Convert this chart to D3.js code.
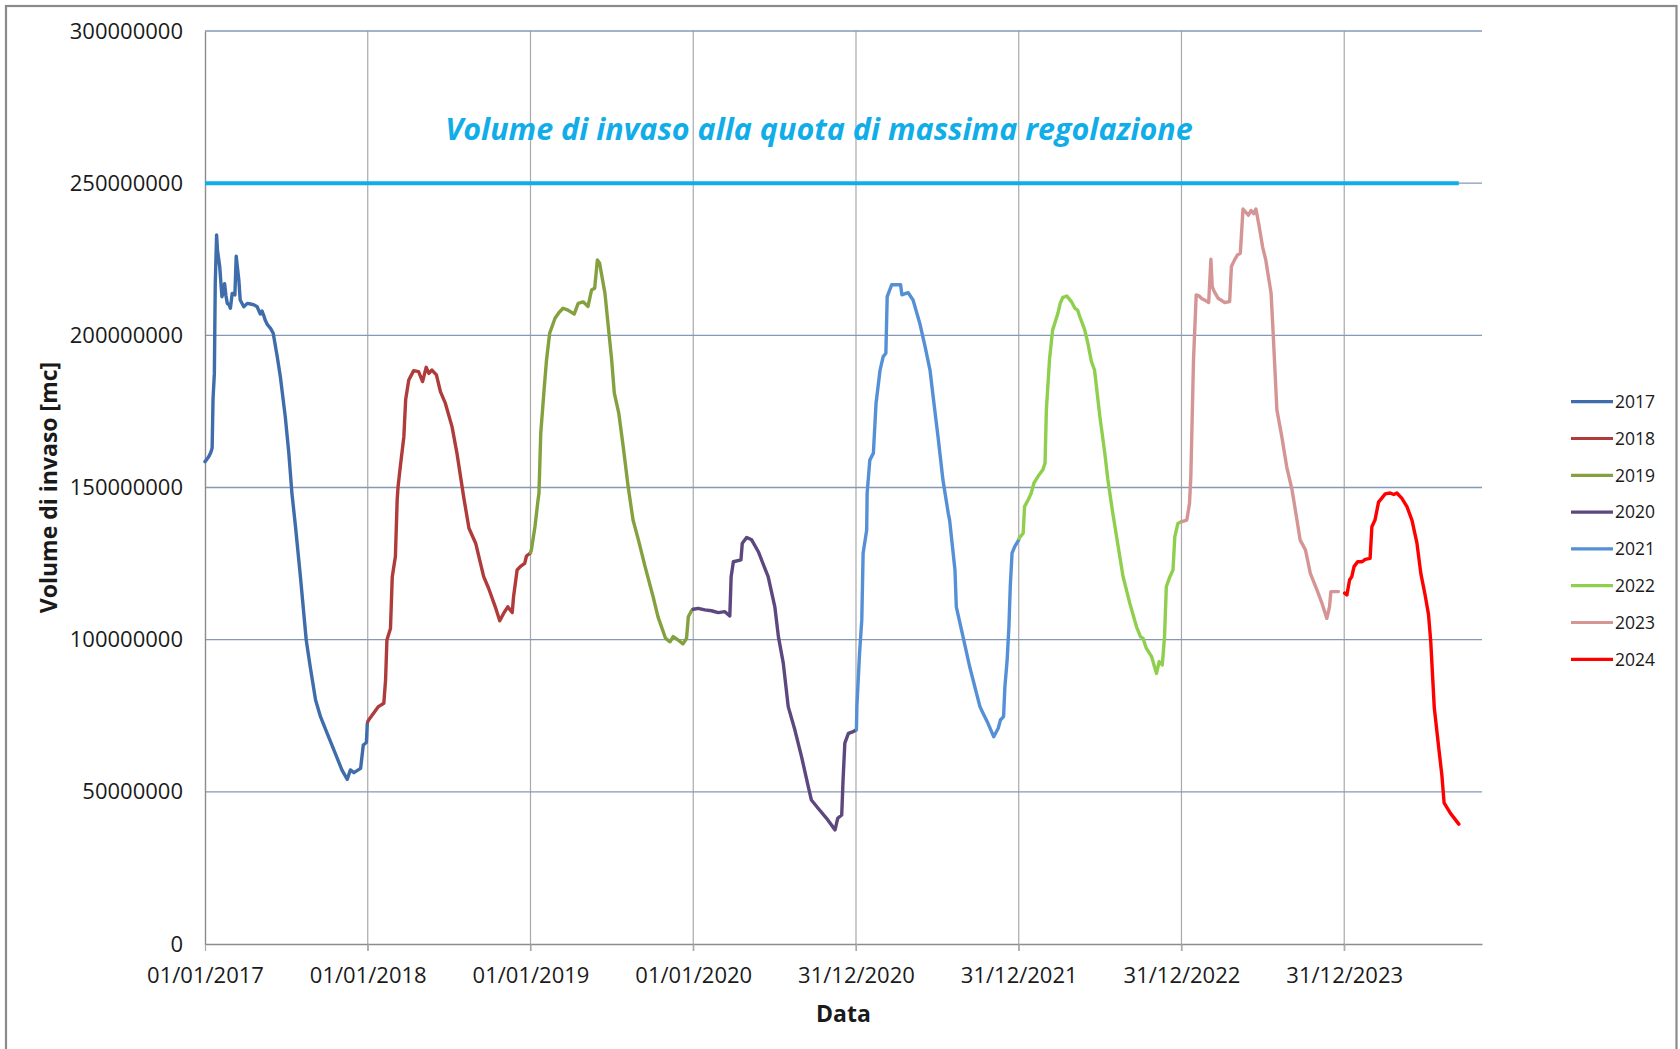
<!DOCTYPE html>
<html><head><meta charset="utf-8">
<script src="https://cdn.jsdelivr.net/npm/d3@7"></script>
<style>html,body{margin:0;padding:0;background:#fff;} svg{display:block;}</style>
</head><body>
<svg id="chart" width="1680" height="1049"></svg>
<script>
// ---- DATA (volumes in millions of m3; [day of year, value]) ----
const years = ["2017","2018","2019","2020","2021","2022","2023","2024"];
const seriesColors = ["#3f6cab","#b03b3b","#84a13f","#5c477f","#5590d6","#90cf4e","#d59594","#ff0000"];
const s2017 = [[0,158.5],[8,160],[13,161.5],[16,163],[18,179],[21,187.5],[23,217],[26,233],[28,228],[33,222.6],[38,212.7],[41,214],[44,217],[47,213],[50,210.5],[54,210],[57,208.9],[61,213.8],[67,213.3],[70,226],[73,222],[76,218],[79,211.6],[87,209.4],[95,210.5],[102,210.3],[110,210],[117,209.4],[124,207],[128,208],[132,206.4],[135,205],[140,203.5],[147,202.3],[153,200.7],[162,193],[169,186.4],[180,173.3],[188,161.3],[195,148],[203,137.1],[214,120.7],[227,99.9],[236,91.1],[248,80.2],[259,74.7],[274,69.2],[289,63.8],[307,57.2],[319,54.1],[326,57.2],[334,56.3],[349,57.7],[355,65.4],[362,66.2],[364,72.5]];
const s2018 = [[0,73],[2,73.6],[13,75.8],[24,78],[36,79.1],[40,86.8],[43,99.9],[51,103.7],[55,120.7],[62,127.3],[66,145.9],[68,150.3],[73,156.8],[81,166.7],[85,178.8],[92,185.3],[103,188.4],[114,188.1],[123,184.8],[131,189.5],[137,187.5],[144,188.6],[154,187],[163,181.5],[174,177.7],[189,170],[200,161.3],[215,147],[227,136.6],[242,131.7],[260,120.7],[271,116.9],[286,110.8],[296,106.2],[305,108.7],[314,110.8],[324,108.9],[327,114.1],[335,122.9],[342,124],[352,125.1],[356,127.5],[364,128.4]];
const s2019 = [[0,128.6],[2,129.5],[10,137.1],[17,146],[19,148.1],[23,167.8],[31,183.1],[36,192],[43,200.7],[55,205.6],[64,207.5],[73,208.9],[84,208.3],[98,207],[107,210.5],[118,211],[129,209.5],[137,214.9],[144,215.5],[150,224.8],[155,223.7],[167,213.8],[176,200.7],[182,192],[188,181],[198,174.4],[208,163.4],[219,150.3],[230,139.3],[242,132.8],[257,124],[275,114.1],[286,107.5],[303,100.4],[313,99.3],[320,101],[331,99.9],[342,98.6],[350,100.4],[354,107.5],[361,109.5],[364,110]];
const s2020 = [[0,110],[11,110.3],[26,109.8],[41,109.5],[56,108.9],[71,109.2],[82,107.8],[85,120.7],[90,125.6],[107,126.2],[110,131.7],[120,133.6],[131,132.8],[146,128.9],[168,120.7],[183,110.8],[191,101],[202,92.2],[213,78],[228,70.3],[243,61.5],[258,51.7],[265,47.3],[280,44.6],[299,41.3],[318,37.5],[324,41.3],[333,42.4],[336,53.9],[340,66],[348,69.2],[359,69.8],[365,70.3]];
const s2021 = [[0,70.5],[1,78],[7,95.5],[12,106.5],[15,128.4],[23,136],[24,148.1],[30,159],[38,161.3],[44,177.7],[53,188.6],[60,193],[66,194.1],[69,212.7],[79,216.6],[99,216.6],[102,213.3],[116,214],[127,211.6],[142,204],[154,196.3],[165,188.6],[172,179.9],[183,166.7],[194,152.5],[206,141.5],[209,139.3],[221,122.9],[224,110.8],[239,101],[254,91.1],[277,78],[284,75.8],[295,72.5],[308,68.1],[318,70.9],[323,73.6],[330,74.7],[333,84.6],[338,93.3],[342,104.3],[345,117.4],[349,128.4],[355,130.6],[364,132.8]];
const s2022 = [[0,133.3],[9,135],[12,143.7],[20,145.9],[27,148.1],[33,151.4],[42,153.6],[53,155.8],[58,158],[61,175.5],[68,192],[75,201.8],[80,204],[87,207.3],[92,210.5],[98,212.5],[107,212.9],[117,211.1],[125,208.9],[131,208.3],[136,206.1],[147,201.8],[154,197.4],[162,191.4],[169,188.6],[181,173.3],[192,161.3],[199,152.5],[210,141.5],[222,130.6],[233,120.7],[248,112],[263,104.3],[272,101],[278,100.4],[285,97.2],[297,94.4],[308,88.9],[314,92.8],[321,91.7],[326,101],[330,117.4],[338,120.7],[345,122.9],[349,133.8],[356,138.2],[364,138.8]];
const s2023 = [[0,138.8],[11,139.3],[17,144.8],[20,153.6],[26,192],[32,213.3],[38,213],[45,212],[52,211.5],[60,210.8],[65,225],[68,216],[72,214.5],[81,212.2],[96,210.8],[107,211.1],[111,222.6],[118,224.8],[125,226.5],[131,227],[137,241.5],[143,240.5],[149,239.5],[155,241],[161,240],[166,241.5],[173,236],[181,229],[188,224.8],[200,213.8],[205,199.5],[213,175.5],[224,166.7],[235,156.8],[247,149.2],[258,139.3],[265,132.8],[277,129.5],[288,121.8],[303,116.3],[314,112],[325,107],[331,110.8],[334,115.8],[351,115.8]];
const s2024 = [[0,115.3],[5,114.7],[11,119.6],[16,120.7],[21,124],[29,125.6],[39,125.6],[46,126.4],[57,126.7],[61,137.1],[68,139.3],[76,145.2],[91,147.9],[102,148.2],[110,147.7],[117,148.2],[128,146.5],[140,143.6],[151,139.2],[162,131.8],[171,121.6],[181,114.2],[188,108.3],[193,99.5],[201,77.6],[211,64.4],[218,55.5],[223,46.4],[237,43],[256,39.4]];
const seriesData = [s2017,s2018,s2019,s2020,s2021,s2022,s2023,s2024];
const refLabel = "Volume di invaso alla quota di massima regolazione";
const refValue = 250;
const refDates = ["01/01/2017","13/09/2024"];
const xTickLabels = ["01/01/2017","01/01/2018","01/01/2019","01/01/2020","31/12/2020","31/12/2021","31/12/2022","31/12/2023"];
const xDomain = ["01/01/2017","04/11/2024"];
const yTicks = [0,50,100,150,200,250,300];
const yTitle = "Volume di invaso [mc]";
const xTitle = "Data";

// ---- DRAW ----
const svg = d3.select("#chart");
const L = 205, R = 1482, T = 31, B = 944;
const parse = d3.timeParse("%d/%m/%Y");
const fmt = d3.timeFormat("%d/%m/%Y");
const x = d3.scaleTime().domain(xDomain.map(parse)).range([L, R]);
const y = d3.scaleLinear().domain([0, 300]).range([B, T]);

svg.append("rect").attr("x",0).attr("y",0).attr("width",1680).attr("height",1049).attr("fill","#fff");
svg.append("rect").attr("x",6).attr("y",6).attr("width",1670.5).attr("height",1100)
  .attr("fill","none").attr("stroke","#8a8a8a").attr("stroke-width",2.2);

const xTicks = xTickLabels.map(parse);
// vertical gridlines
svg.append("g").selectAll("line").data(xTicks.slice(1)).join("line")
  .attr("x1", d => x(d)).attr("x2", d => x(d)).attr("y1", T).attr("y2", B + 7)
  .attr("stroke", "#a9a9a9").attr("stroke-width", 1.2);
// horizontal gridlines
svg.append("g").selectAll("line").data(yTicks.filter(v => v > 0)).join("line")
  .attr("x1", L).attr("x2", R).attr("y1", d => y(d)).attr("y2", d => y(d))
  .attr("stroke", "#8499b6").attr("stroke-width", 1.3);

// axes
const xAxis = svg.append("g").attr("transform", `translate(0,${B})`)
  .call(d3.axisBottom(x).tickValues(xTicks).tickFormat(fmt).tickSize(7).tickSizeOuter(0).tickPadding(0));
xAxis.select(".domain").attr("stroke", "#8c8c8c").attr("stroke-width", 1.4);
xAxis.selectAll(".tick line").attr("stroke", "#a9a9a9").attr("stroke-width", 1.2);
xAxis.selectAll(".tick text").attr("y", 39).attr("dy", 0)
  .attr("font-family", "'Open Sans', sans-serif").attr("font-size", 22).attr("fill", "#1a1a1a");

const yAxis = svg.append("g").attr("transform", `translate(${L},0)`)
  .call(d3.axisLeft(y).tickValues(yTicks).tickFormat(d => String(d * 1000000)).tickSize(0).tickPadding(22));
yAxis.select(".domain").attr("stroke", "#8c8c8c").attr("stroke-width", 1.4);
yAxis.selectAll(".tick text").attr("font-family", "'Open Sans', sans-serif").attr("font-size", 22).attr("fill", "#1a1a1a");

// axis titles
svg.append("text").attr("transform", `translate(49,${(T + B) / 2}) rotate(-90)`)
  .attr("text-anchor", "middle").attr("dy", "0.35em")
  .attr("font-family", "'Open Sans', sans-serif").attr("font-weight", "bold").attr("font-size", 23)
  .attr("fill", "#1a1a1a").text(yTitle);
svg.append("text").attr("x", (L + R) / 2).attr("y", 1022).attr("text-anchor", "middle")
  .attr("font-family", "'Open Sans', sans-serif").attr("font-weight", "bold").attr("font-size", 23)
  .attr("fill", "#1a1a1a").text(xTitle);

// reference line
const refLine = refDates.map(d => ({ date: parse(d), v: refValue }));
svg.append("path").datum(refLine)
  .attr("d", d3.line().x(d => x(d.date)).y(d => y(d.v)))
  .attr("stroke", "#11ade8").attr("stroke-width", 4).attr("fill", "none");
svg.append("text").attr("x", 819).attr("y", 140).attr("text-anchor", "middle")
  .attr("font-family", "'Open Sans', sans-serif").attr("font-weight", "bold").attr("font-style", "italic")
  .attr("font-size", 30.5).attr("fill", "#11ade8").text(refLabel);

// series
const line = d3.line().x(d => x(d.date)).y(d => y(d.v));
seriesData.forEach((s, i) => {
  const yr = +years[i];
  const pts = s.map(([day, v]) => ({ date: d3.timeDay.offset(new Date(yr, 0, 1), day), v }));
  svg.append("path").datum(pts).attr("d", line)
    .attr("fill", "none").attr("stroke", seriesColors[i]).attr("stroke-width", 3.4)
    .attr("stroke-linejoin", "round").attr("stroke-linecap", "round");
});

// legend
const ly = d3.scalePoint().domain(years).range([401.7, 659.3]);
const lg = svg.append("g");
years.forEach((yr, i) => {
  lg.append("line").attr("x1", 1571).attr("x2", 1613).attr("y1", ly(yr)).attr("y2", ly(yr))
    .attr("stroke", seriesColors[i]).attr("stroke-width", 3.2);
  lg.append("text").attr("x", 1615).attr("y", ly(yr)).attr("dy", "0.36em")
    .attr("font-family", "'Open Sans', sans-serif").attr("font-size", 17.5).attr("fill", "#1a1a1a").text(yr);
});
</script>
</body></html>
